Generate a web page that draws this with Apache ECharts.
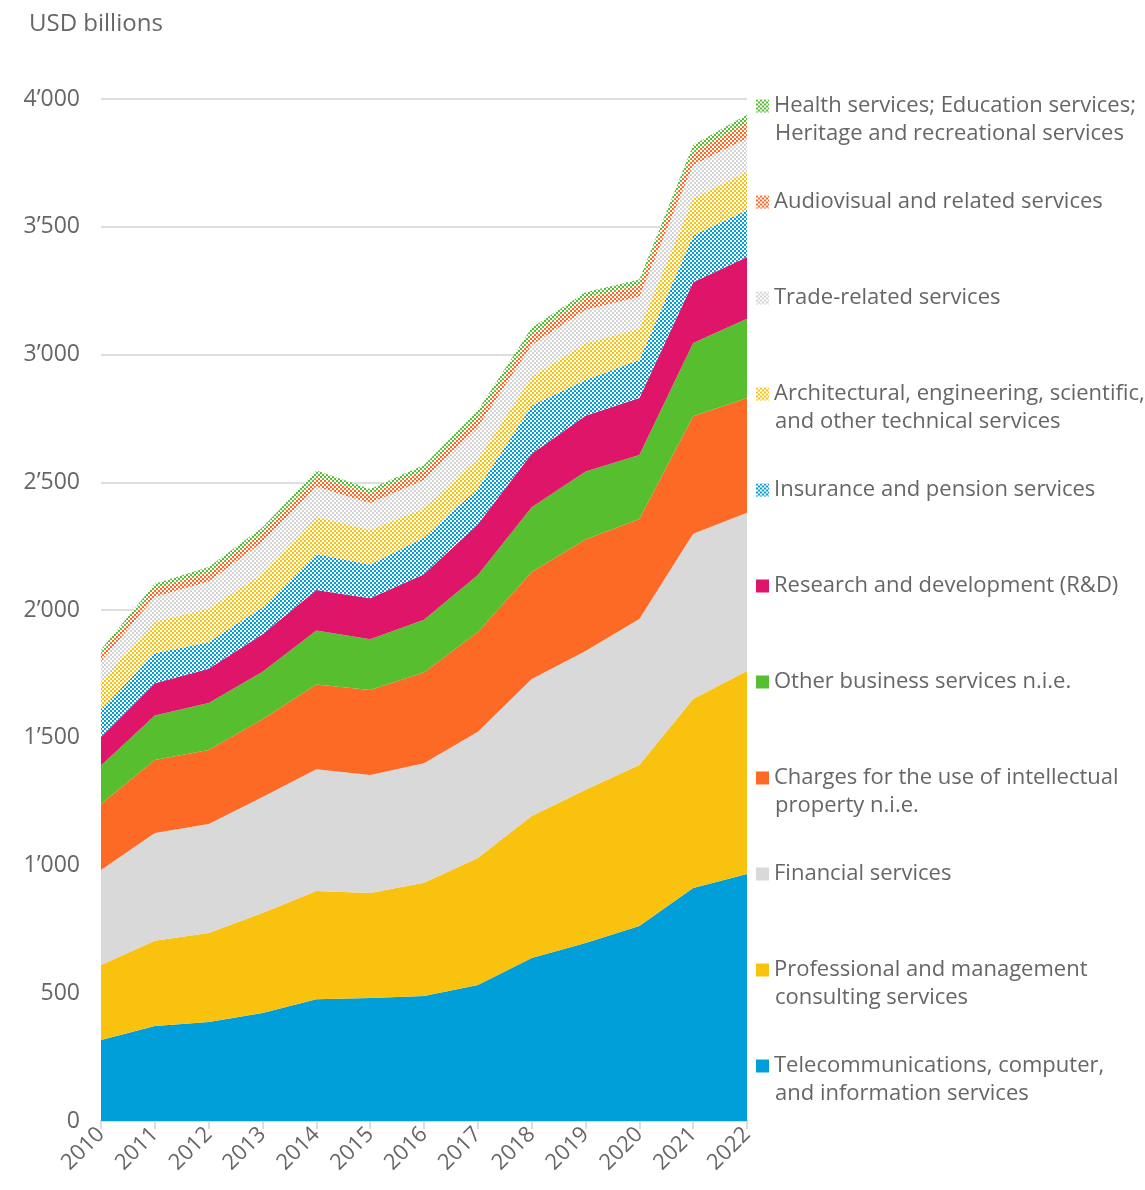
<!DOCTYPE html>
<html>
<head>
<meta charset="utf-8">
<script src="https://cdn.jsdelivr.net/npm/echarts@6/dist/echarts.min.js"></script>
<style>
  html, body { margin: 0; padding: 0; background: #fff; }
  #chart { width: 1145px; height: 1190px; }
</style>
</head>
<body>
<div id="chart"></div>
<script>
// data, USD billions
var years = ['2010', '2011', '2012', '2013', '2014', '2015', '2016', '2017', '2018', '2019', '2020', '2021', '2022'];

var telecom      = [317, 372, 387, 423, 477, 481, 489, 532, 638, 697, 763, 912, 967];
var professional = [294, 333, 349, 391, 423, 411, 443, 497, 556, 599, 630, 740, 794];
var financial    = [371, 422, 426, 454, 477, 462, 468, 494, 536, 544, 572, 646, 620];
var charges      = [259, 286, 290, 304, 331, 333, 355, 391, 419, 436, 391, 460, 449];
var otherBiz     = [150, 174, 184, 186, 212, 199, 207, 223, 253, 266, 251, 287, 310];
var research     = [111, 126, 134, 147, 158, 160, 178, 199, 210, 218, 223, 238, 242];
var insurance    = [110, 118, 105, 105, 141, 132, 144, 140, 188, 140, 149, 183, 184];
var architect    = [108, 123, 131, 132, 146, 135, 114, 113, 113, 144, 123, 145, 150];
var trade        = [78, 98, 105, 124, 118, 105, 111, 126, 124, 130, 124, 131, 130];
var audiovisual  = [32, 33, 37, 35, 39, 38, 39, 38, 38, 48, 46, 52, 62];
var health       = [14, 18, 20, 22, 24, 18, 20, 28, 30, 22, 22, 26, 30];

var yTicks = [0, 500, 1000, 1500, 2000, 2500, 3000, 3500, 4000];

var FONT = '"Open Sans", "Liberation Sans", sans-serif';
var TXT = '#666666';

function checker(color) {
  var c = document.createElement('canvas');
  c.width = 4; c.height = 4;
  var ctx = c.getContext('2d');
  ctx.fillStyle = '#ffffff';
  ctx.fillRect(0, 0, 4, 4);
  ctx.fillStyle = color;
  ctx.fillRect(0, 0, 2, 2);
  ctx.fillRect(2, 2, 2, 2);
  return { image: c, repeat: 'repeat' };
}

// bottom of the stack first
var layers = [
  { name: 'Telecommunications, computer,\nand information services', data: telecom, color: '#009fda', y: 1065 },
  { name: 'Professional and management\nconsulting services', data: professional, color: '#f9c20e', y: 969 },
  { name: 'Financial services', data: financial, color: '#d9d9d9', y: 873 },
  { name: 'Charges for the use of intellectual\nproperty n.i.e.', data: charges, color: '#fc6a26', y: 777 },
  { name: 'Other business services n.i.e.', data: otherBiz, color: '#57bf2f', y: 681 },
  { name: 'Research and development (R&D)', data: research, color: '#de1569', y: 585 },
  { name: 'Insurance and pension services', data: insurance, color: checker('#009fda'), y: 489 },
  { name: 'Architectural, engineering, scientific,\nand other technical services', data: architect, color: checker('#f9c20e'), y: 393 },
  { name: 'Trade-related services', data: trade, color: checker('#d4d4d4'), y: 297 },
  { name: 'Audiovisual and related services', data: audiovisual, color: checker('#fc6a26'), y: 201 },
  { name: 'Health services; Education services;\nHeritage and recreational services', data: health, color: checker('#57bf2f'), y: 105 }
];

var series = layers.map(function (l) {
  return {
    name: l.name,
    type: 'line',
    stack: 'total',
    data: l.data,
    color: l.color,
    symbol: 'none',
    lineStyle: { width: 0 },
    areaStyle: { color: l.color, opacity: 1 },
    emphasis: { disabled: true }
  };
});

var legends = layers.map(function (l) {
  return {
    data: [l.name],
    orient: 'vertical',
    left: 756,
    top: l.y - 13,
    padding: 0,
    icon: 'rect',
    itemWidth: 13,
    itemHeight: 13,
    selectedMode: false,
    itemStyle: { borderWidth: 0 },
    formatter: function (n) { return n.split('\n')[0]; },
    textStyle: { fontFamily: FONT, fontSize: 22, color: TXT, lineHeight: 28 }
  };
});

var secondLines = [];
layers.forEach(function (l) {
  var parts = l.name.split('\n');
  if (parts.length > 1) {
    secondLines.push({
      type: 'text',
      left: 775,
      top: l.y + 29 - 14,
      style: { text: parts[1], font: '22px ' + FONT, fill: TXT, lineHeight: 28 }
    });
  }
});

function fmt(v) {
  if (v < 1000) return String(v);
  var r = String(v % 1000);
  while (r.length < 3) r = '0' + r;
  return Math.floor(v / 1000) + '\u2019' + r;
}

var chart = echarts.init(document.getElementById('chart'));
chart.setOption({
  animation: false,
  backgroundColor: '#fff',
  title: {
    text: 'USD billions',
    left: 24,
    top: 7,
    textStyle: { fontFamily: FONT, fontSize: 24, fontWeight: 'normal', color: TXT }
  },
  legend: legends,
  grid: { left: 101, right: 398, top: 99, bottom: 69 },
  xAxis: {
    type: 'category',
    data: years,
    boundaryGap: false,
    axisLine: { lineStyle: { color: '#dcdcdc', width: 2 } },
    axisTick: { show: true, length: 8, lineStyle: { color: '#dcdcdc', width: 2 } },
    axisLabel: { rotate: 45, fontFamily: FONT, fontSize: 22, color: TXT, margin: 10 }
  },
  yAxis: {
    type: 'value',
    min: yTicks[0],
    max: yTicks[yTicks.length - 1],
    interval: 500,
    axisLine: { show: false },
    axisTick: { show: false },
    splitLine: { lineStyle: { color: '#dedede', width: 2 } },
    axisLabel: { formatter: fmt, fontFamily: FONT, fontSize: 23, color: TXT, margin: 21 }
  },
  graphic: secondLines,
  series: series
});
</script>
</body>
</html>
